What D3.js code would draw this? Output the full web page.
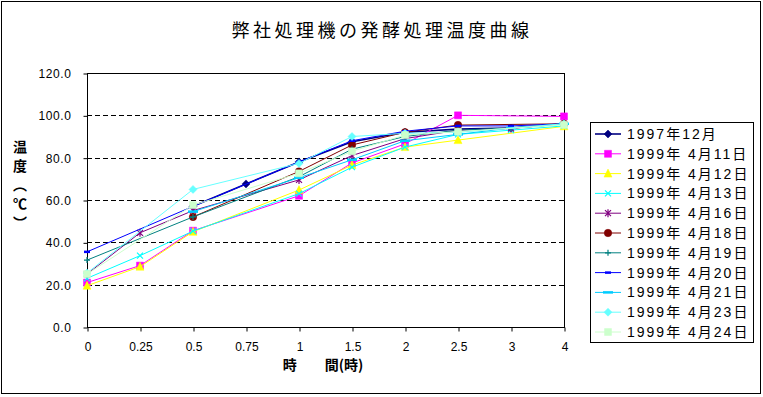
<!DOCTYPE html>
<html><head><meta charset="utf-8">
<script src="https://cdn.jsdelivr.net/npm/d3@7"></script>
<style>
html,body{margin:0;padding:0;background:#fff;}
svg{display:block;}
text{font-family:"Liberation Sans","Noto Sans CJK JP",sans-serif;}
</style></head>
<body>
<svg id="chart" width="763" height="397"></svg>
<script>
const titleText = "弊社処理機の発酵処理温度曲線";
const xTitle = "時　　間(時)";
const yTitle = "温度（℃）";
const categories = ["0","0.25","0.5","0.75","1","1.5","2","2.5","3","4"];
const yTicks = [0,20,40,60,80,100,120];
const seriesNames = ["1997年12月","1999年 4月11日","1999年 4月12日","1999年 4月13日","1999年 4月16日","1999年 4月18日","1999年 4月19日","1999年 4月20日","1999年 4月21日","1999年 4月23日","1999年 4月24日"];
const seriesColors = ["#000080","#FF00FF","#FFFF00","#00FFFF","#800080","#800000","#008080","#0000FF","#00CCFF","#66FFFF","#CCFFCC"];
const seriesMarkers = ["diamond","square","triangle","x","star","circle","plus","dash","longdash","diamond","square"];
const v1997  = [null,null,57,67.6,78,87.5,92,93.5,94,96];
const v0411  = [21,29,45.5,null,62,77.5,86.5,100,null,99.5];
const v0412  = [19.5,28.5,45,null,64.7,76.5,85,88.3,null,94.8];
const v0413  = [23,33.7,45.3,null,63,75.5,85,91,93,95];
const v0416  = [25,44.5,55,null,69.5,81,89,93,93.8,96];
const v0418  = [null,null,52,null,73.5,86,92,95.4,null,96];
const v0419  = [31.6,null,52,null,71,84,90,93,94,96];
const v0420  = [35.5,null,57,null,78,88,92.5,95,95,96];
const v0421  = [null,null,54.5,null,70.5,79,88,91,94,96];
const v0423  = [25.5,null,65,null,77.3,90,91.5,92,null,96];
const v0424  = [25,null,57.6,null,72.6,83,90.7,92.3,null,95.5];
const seriesValues = [v1997,v0411,v0412,v0413,v0416,v0418,v0419,v0420,v0421,v0423,v0424];

const svg = d3.select("#chart");
// outer border
svg.append("rect").attr("x",1.5).attr("y",1.5).attr("width",759).attr("height",392)
  .attr("fill","#fff").attr("stroke","#000").attr("stroke-width",1);

const x = d3.scalePoint().domain(categories).range([87,564]);
const y = d3.scaleLinear().domain([0,120]).range([327,73]);

// gridlines
svg.append("g").selectAll("line").data(yTicks.filter(d=>d>0 && d<120)).join("line")
  .attr("x1",87).attr("x2",564).attr("y1",d=>Math.round(y(d))+0.5).attr("y2",d=>Math.round(y(d))+0.5)
  .attr("stroke","#000").attr("stroke-dasharray","5,3").attr("stroke-width",1);

// plot frame
svg.append("rect").attr("x",87.5).attr("y",73.5).attr("width",477).attr("height",254)
  .attr("fill","none").attr("stroke","#000").attr("stroke-width",1);

const yAxis = svg.append("g").attr("transform","translate(87.5,0.5)")
  .call(d3.axisLeft(y).tickValues(yTicks).tickFormat(d3.format(".1f")).tickSize(4).tickPadding(12));
yAxis.select(".domain").remove();
yAxis.selectAll("text").attr("font-size","12px").attr("fill","#000").style("letter-spacing","0.6px");

const xAxis = svg.append("g").attr("transform","translate(0.5,327.5)")
  .call(d3.axisBottom(x).tickSize(4).tickPadding(11));
xAxis.select(".domain").remove();
xAxis.selectAll("text").attr("font-size","12px").attr("fill","#000");

// markers
function markerPath(type){
  switch(type){
    case "diamond": return "M0,-4L4,0L0,4L-4,0Z";
    case "square": return "M-3.5,-3.5H3.5V3.5H-3.5Z";
    case "triangle": return "M0,-4.5L4,3.5H-4Z";
    case "x": return "M-3,-3L3,3M-3,3L3,-3";
    case "star": return "M-3,-3L3,3M-3,3L3,-3M0,-4V4";
    case "circle": return d3.symbol(d3.symbolCircle,44)();
    case "plus": return "M-3,0H3M0,-3V3";
    case "dash": return "M-3,0H3";
    case "longdash": return "M-5,0H5";
  }
}
const filledTypes = new Set(["diamond","square","triangle","circle"]);

const line = d3.line().defined(d=>d.v!=null).x(d=>x(d.c)).y(d=>y(d.v));
seriesValues.forEach((vals,i)=>{
  const pts = categories.map((c,j)=>({c:c,v:vals[j]})).filter(d=>d.v!=null);
  const g = svg.append("g");
  g.append("path").datum(pts).attr("d",line).attr("fill","none")
    .attr("stroke",seriesColors[i]).attr("stroke-width",i===0?1.6:1);
  const t = seriesMarkers[i];
  g.selectAll("path.m").data(pts).join("path").attr("class","m")
    .attr("transform",d=>`translate(${x(d.c)},${y(d.v)})`)
    .attr("d",markerPath(t))
    .attr("fill",filledTypes.has(t)?seriesColors[i]:"none")
    .attr("stroke",seriesColors[i]).attr("stroke-width",filledTypes.has(t)?0.5:(t==="dash"||t==="longdash"?2.5:1.2));
});

// title
svg.append("text").attr("x",382).attr("y",37).attr("text-anchor","middle")
  .attr("font-size","18px").style("letter-spacing","3.5px")
  .style("font-family","'Noto Sans CJK JP',sans-serif").text(titleText);

// x title
svg.append("text").attr("x",323).attr("y",370).attr("text-anchor","middle")
  .attr("font-size","14px").attr("font-weight","bold")
  .style("font-family","'Noto Sans CJK JP',sans-serif").text(xTitle);

// y title (vertical)
svg.append("text").attr("x",20).attr("y",140)
  .style("writing-mode","vertical-rl").style("text-orientation","mixed")
  .attr("font-size","14px").attr("font-weight","bold").style("letter-spacing","5px")
  .style("font-family","'Noto Sans CJK JP',sans-serif").text(yTitle);

// legend
const lg = svg.append("g");
lg.append("rect").attr("x",590.5).attr("y",122.5).attr("width",163).attr("height",220)
  .attr("fill","#fff").attr("stroke","#000").attr("stroke-width",1);
seriesNames.forEach((name,i)=>{
  const cy = 134 + i*19.8;
  const t = seriesMarkers[i];
  lg.append("line").attr("x1",595).attr("x2",621).attr("y1",cy).attr("y2",cy)
    .attr("stroke",seriesColors[i]).attr("stroke-width",i===0?1.6:1);
  lg.append("path").attr("transform",`translate(608,${cy})`).attr("d",markerPath(t))
    .attr("fill",filledTypes.has(t)?seriesColors[i]:"none")
    .attr("stroke",seriesColors[i]).attr("stroke-width",filledTypes.has(t)?0.5:(t==="dash"||t==="longdash"?2.5:1.2));
  lg.append("text").attr("x",627).attr("y",cy+5).attr("font-size","14px")
    .style("letter-spacing","2px").attr("fill","#000").text(name);
});
</script>
</body></html>
